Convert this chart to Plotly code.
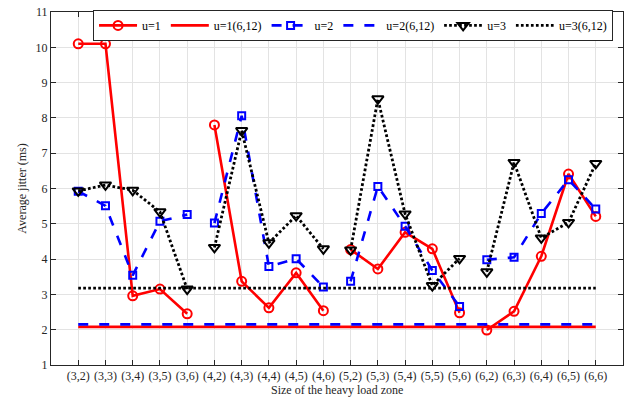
import plotly.graph_objects as go

# Heavy-load zone sizes (rows, cols)
zones = ["(3,2)", "(3,3)", "(3,4)", "(3,5)", "(3,6)",
         "(4,2)", "(4,3)", "(4,4)", "(4,5)", "(4,6)",
         "(5,2)", "(5,3)", "(5,4)", "(5,5)", "(5,6)",
         "(6,2)", "(6,3)", "(6,4)", "(6,5)", "(6,6)"]

# Average jitter (ms) per zone size
jitter_u1 = [10.10, 10.10, 2.96, 3.15, 2.45,
             7.80, 3.37, 2.62, 3.61, 2.54,
             4.27, 3.72, 4.76, 4.29, 2.48,
             1.99, 2.52, 4.08, 6.41, 5.21]
jitter_u2 = [5.92, 5.51, 3.54, 5.07, 5.26,
             5.02, 8.06, 3.79, 4.01, 3.21,
             3.37, 6.06, 4.93, 3.68, 2.66,
             3.98, 4.05, 5.29, 6.25, 5.42]
jitter_u3 = [5.93, 6.10, 5.95, 5.34, 3.15,
             4.33, 7.64, 4.46, 5.23, 4.29,
             4.26, 8.54, 5.28, 3.25, 4.02,
             3.64, 6.74, 4.60, 5.04, 6.71]

# Baseline jitter of the (6,12) configuration
base_u1 = 2.08
base_u2 = 2.15
base_u3 = 3.18

FONT = "Liberation Serif"
TXT = "#262626"


def with_breaks(xs, ys):
    """Insert a gap whenever the first zone dimension changes."""
    bx, by = [], []
    prev = None
    for x, y in zip(xs, ys):
        grp = x[1]
        if prev is not None and grp != prev:
            bx.append(None)
            by.append(None)
        bx.append(x)
        by.append(y)
        prev = grp
    return bx, by


fig = go.Figure()

x1, y1 = with_breaks(zones, jitter_u1)
fig.add_trace(go.Scatter(
    x=x1, y=y1, name="u=1", mode="lines+markers", connectgaps=False,
    line=dict(color="#ff0000", width=2.6),
    marker=dict(symbol="circle-open", size=9, color="#ff0000",
                line=dict(width=2, color="#ff0000"))))
fig.add_trace(go.Scatter(
    x=zones, y=[base_u1] * len(zones), name="u=1(6,12)", mode="lines",
    line=dict(color="#ff0000", width=2.6)))

x2, y2 = with_breaks(zones, jitter_u2)
fig.add_trace(go.Scatter(
    x=x2, y=y2, name="u=2", mode="lines+markers", connectgaps=False,
    line=dict(color="#0000ff", width=2.6, dash="10px,11px"),
    marker=dict(symbol="square-open", size=7, color="#0000ff",
                line=dict(width=2, color="#0000ff"))))
fig.add_trace(go.Scatter(
    x=zones, y=[base_u2] * len(zones), name="u=2(6,12)", mode="lines",
    line=dict(color="#0000ff", width=2.6, dash="10px,11px")))

x3, y3 = with_breaks(zones, jitter_u3)
fig.add_trace(go.Scatter(
    x=x3, y=y3, name="u=3", mode="lines+markers", connectgaps=False,
    line=dict(color="#000000", width=2.8, dash="2.7px,2.3px"),
    marker=dict(symbol="triangle-down-open", size=10, color="#000000",
                line=dict(width=2, color="#000000"))))
fig.add_trace(go.Scatter(
    x=zones, y=[base_u3] * len(zones), name="u=3(6,12)", mode="lines",
    line=dict(color="#000000", width=2.8, dash="2.7px,2.3px")))

axis_common = dict(
    showline=True, linecolor=TXT, linewidth=1, mirror="ticks",
    ticks="inside", ticklen=5, tickcolor=TXT, tickwidth=1,
    showgrid=True, gridcolor="#e3e3e3", gridwidth=1, zeroline=False,
    tickfont=dict(family=FONT, size=12, color=TXT),
)

fig.update_xaxes(
    type="category", categoryorder="array", categoryarray=zones,
    range=[-1, len(zones)],
    **axis_common)
fig.update_yaxes(
    range=[1, 11], dtick=1, tick0=1,
    title=dict(text="Average jitter (ms)",
               font=dict(family=FONT, size=12, color=TXT), standoff=6),
    **axis_common)

# x-axis title, placed just above the bottom edge
fig.add_annotation(
    text="Size of the heavy load zone", xref="paper", yref="paper",
    x=0.5, y=-0.071, xanchor="center", yanchor="middle", showarrow=False,
    font=dict(family=FONT, size=12, color=TXT))

fig.update_layout(
    width=626, height=398,
    margin=dict(l=51, r=3, t=12, b=33, autoexpand=False),
    paper_bgcolor="white", plot_bgcolor="white",
    font=dict(family=FONT, size=12, color=TXT),
    showlegend=True,
    legend=dict(
        orientation="h", x=0.0735, y=1.006, xanchor="left", yanchor="top",
        bgcolor="white", bordercolor="#262626", borderwidth=1,
        font=dict(family=FONT, size=12, color="#000000"),
        itemwidth=38, tracegroupgap=0, itemclick=False,
    ),
)

fig.write_html("out.html")
